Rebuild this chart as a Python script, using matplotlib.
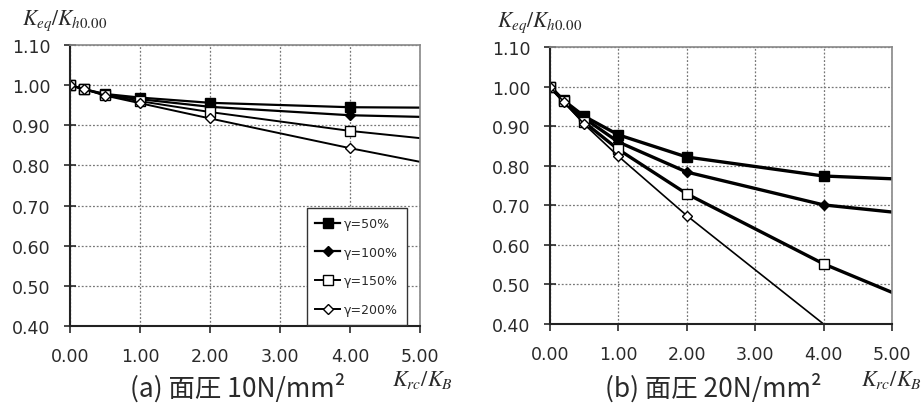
import matplotlib
matplotlib.use("Agg")
import matplotlib.pyplot as plt

plt.rcParams['font.family'] = 'DejaVu Sans'
plt.rcParams['mathtext.fontset'] = 'stix'

# Krc/KB ratios (the last point has no marker)
x_vals = [0.0, 0.2, 0.5, 1.0, 2.0, 4.0, 5.0]
series_labels = ['γ=50%', 'γ=100%', 'γ=150%', 'γ=200%']

# (a) contact pressure 10 N/mm2
keq_10 = [
    [1.00, 0.990, 0.978, 0.969, 0.956, 0.945, 0.944],
    [1.00, 0.990, 0.977, 0.965, 0.946, 0.925, 0.921],
    [1.00, 0.990, 0.975, 0.960, 0.933, 0.886, 0.868],
    [1.00, 0.990, 0.974, 0.955, 0.917, 0.843, 0.809],
]
# (b) contact pressure 20 N/mm2
keq_20 = [
    [1.00, 0.965, 0.925, 0.878, 0.822, 0.774, 0.767],
    [1.00, 0.964, 0.920, 0.860, 0.784, 0.701, 0.683],
    [1.00, 0.963, 0.910, 0.841, 0.729, 0.552, 0.480],
    [1.00, 0.962, 0.905, 0.824, 0.674, 0.400, 0.260],
]

y_ticks = [0.40, 0.50, 0.60, 0.70, 0.80, 0.90, 1.00, 1.10]
x_ticks = [0.0, 1.0, 2.0, 3.0, 4.0, 5.0]
y_min, y_max = 0.40, 1.10

styles = [
    dict(marker='s', mfc='black', ms=6.5),
    dict(marker='D', mfc='black', ms=5),
    dict(marker='s', mfc='white', ms=6.5),
    dict(marker='D', mfc='white', ms=5),
]

fig = plt.figure(figsize=(9.24, 4.10), dpi=100)
ax_a = fig.add_axes([0.0758, 0.2024, 0.3788, 0.6854])
ax_b = fig.add_axes([0.5952, 0.2073, 0.3701, 0.6756])

text_col = '#2a2a2a'
cjk = ['Noto Sans CJK JP', 'DejaVu Sans']


def setup(ax):
    ax.set_xlim(0, 5)
    ax.set_ylim(y_min, y_max)
    ax.set_xticks(x_ticks)
    ax.set_yticks(y_ticks)
    ax.set_xticklabels(['%.2f' % v for v in x_ticks])
    ax.set_yticklabels(['%.2f' % v for v in y_ticks])
    ax.grid(True, color='#777777', linestyle=(0, (1.5, 1.5)), linewidth=0.9)
    ax.tick_params(axis='y', direction='inout', length=8, width=1.2,
                   labelsize=12.5, pad=10, colors=text_col)
    ax.tick_params(axis='x', direction='out', length=5, width=1.2,
                   labelsize=12.5, pad=10, colors=text_col)
    for side in ('top', 'right'):
        ax.spines[side].set_color('#888888')
        ax.spines[side].set_linewidth(1.2)
    for side in ('left', 'bottom'):
        ax.spines[side].set_color('#222222')
        ax.spines[side].set_linewidth(1.5)


def draw(ax, data, widths):
    for vals, st, lw, lab in zip(data, styles, widths, series_labels):
        # markers only on measured points that sit inside the axis range
        marks = [i for i in range(6) if vals[i] > y_min]
        ax.plot(x_vals, vals, color='black', lw=lw, mec='black', mew=1.0,
                markevery=marks, label=lab, **st)


setup(ax_a)
setup(ax_b)
draw(ax_a, keq_10, [1.6, 1.6, 1.4, 1.4])
draw(ax_b, keq_20, [2.4, 2.4, 2.4, 1.2])

leg = ax_a.legend(loc='lower right', bbox_to_anchor=(0.98, -0.018),
                  fontsize=9, labelspacing=1.25, handlelength=2.0,
                  handletextpad=0.3, borderpad=0.7, fancybox=False,
                  framealpha=1, edgecolor='#333333')
leg.get_frame().set_linewidth(1.0)
for t in leg.get_texts():
    t.set_color(text_col)

# axis labels
fig.text(0.024, 0.95, r'$K_{eq}/K_{h0.00}$', fontsize=15.5, color=text_col, va='center')
fig.text(0.538, 0.945, r'$K_{eq}/K_{h0.00}$', fontsize=15.5, color=text_col, va='center')
fig.text(0.490, 0.073, r'$K_{rc}/K_{B}$', fontsize=16, color=text_col,
         ha='right', va='center')
fig.text(0.998, 0.073, r'$K_{rc}/K_{B}$', fontsize=16, color=text_col,
         ha='right', va='center')

# panel titles
fig.text(0.257, 0.054, '(a) 面圧 10N/mm²', fontsize=19, color=text_col,
         ha='center', va='center', family=cjk)
fig.text(0.772, 0.054, '(b) 面圧 20N/mm²', fontsize=19, color=text_col,
         ha='center', va='center', family=cjk)

fig.savefig('out.png', dpi=100)
